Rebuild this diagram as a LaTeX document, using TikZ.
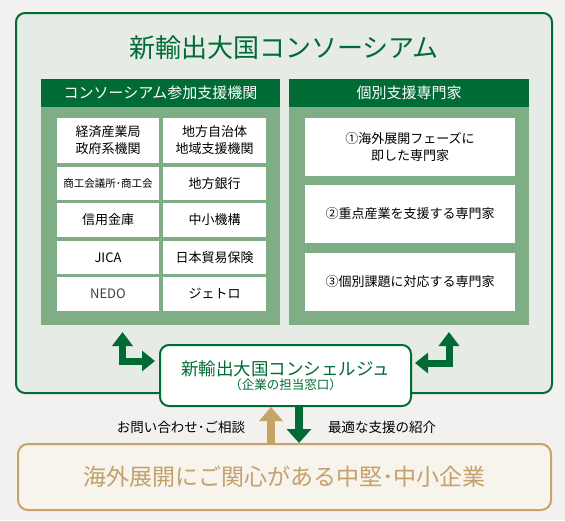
\documentclass[tikz,border=0pt]{standalone}
\usepackage{fontspec}
\setmainfont{Noto Sans CJK JP}
\usetikzlibrary{arrows.meta}
\definecolor{bgc}{HTML}{F2F1EF}
\definecolor{dg}{HTML}{006B35}
\definecolor{pg}{HTML}{7FAD86}
\definecolor{lg}{HTML}{E6ECE5}
\definecolor{tn}{HTML}{C9A265}
\definecolor{tntext}{HTML}{C4A06A}
\definecolor{bfill}{HTML}{F7F3ED}
\newcommand{\fs}[2]{\fontsize{#1}{#2}\selectfont}
\tikzset{
  wbox/.style={fill=white, draw=none, inner sep=0pt, align=center, text=black, font=\fs{13}{17}},
  panel/.style={fill=pg, draw=none, inner sep=0pt},
  header/.style={fill=dg, draw=none, inner sep=0pt, text=white, font=\fs{15}{17}},
  garrow/.style={draw=dg, line width=7pt, line join=miter},
  vtan/.style={draw=tn, line width=8pt, -{Triangle[width=23pt,length=14pt]}},
  vgreen/.style={draw=dg, line width=8pt, -{Triangle[width=24pt,length=14pt]}},
  elbowtips/.style={{Triangle[width=20pt,length=14pt]}-{Triangle[width=20pt,length=13pt]}},
  lbl/.style={inner sep=0pt, font=\fs{13.5}{16}, text=black}
}
\begin{document}
\begin{tikzpicture}[x=1pt,y=-1pt]
\useasboundingbox (0,0) rectangle (565,520);
\fill[bgc] (0,0) rectangle (565,520);

% outer consortium box
\node[draw=dg, fill=lg, line width=2pt, rounded corners=9pt, minimum width=536pt, minimum height=380pt, inner sep=0pt] (outer) at (284,203) {};
\node[text=dg, font=\fs{26}{28}, inner sep=0pt] (title) at (284,48) {新輸出大国コンソーシアム};

% left panel
\node[panel, minimum width=239pt, minimum height=246pt] (lp) at (160.5,202) {};
\node[header, minimum width=239pt, minimum height=28pt] (lh) at (160.5,93) {コンソーシアム参加支援機関};
\node[wbox, minimum width=102pt, minimum height=45pt] (b11) at (108,140.5) {経済産業局\\政府系機関};
\node[wbox, minimum width=103pt, minimum height=45pt] (b12) at (214.5,140.5) {地方自治体\\地域支援機関};
\node[wbox, minimum width=102pt, minimum height=33pt, font=\fs{10.5}{13}] (b21) at (108,183.5) {商工会議所･商工会};
\node[wbox, minimum width=103pt, minimum height=33pt] (b22) at (214.5,183.5) {地方銀行};
\node[wbox, minimum width=102pt, minimum height=34pt] (b31) at (108,220) {信用金庫};
\node[wbox, minimum width=103pt, minimum height=34pt] (b32) at (214.5,220) {中小機構};
\node[wbox, minimum width=102pt, minimum height=33pt] (b41) at (108,257.5) {JICA};
\node[wbox, minimum width=103pt, minimum height=33pt] (b42) at (214.5,257.5) {日本貿易保険};
\node[wbox, minimum width=102pt, minimum height=34pt, text=black!75] (b51) at (108,294) {NEDO};
\node[wbox, minimum width=103pt, minimum height=34pt] (b52) at (214.5,294) {ジェトロ};

% right panel
\node[panel, minimum width=240pt, minimum height=246pt] (rp) at (409,202) {};
\node[header, minimum width=240pt, minimum height=28pt] (rh) at (409,93) {個別支援専門家};
\node[wbox, minimum width=210pt, minimum height=58pt] (r1) at (410,147) {①海外展開フェーズに\\即した専門家};
\node[wbox, minimum width=210pt, minimum height=58pt] (r2) at (410,214) {②重点産業を支援する専門家};
\node[wbox, minimum width=210pt, minimum height=58pt] (r3) at (410,282) {③個別課題に対応する専門家};

% concierge
\node[draw=dg, fill=white, line width=2pt, rounded corners=9pt, minimum width=251pt, minimum height=61pt, inner sep=0pt, align=center, text=dg] (con) at (285.5,375.5)
  {{\fs{17.5}{17}新輸出大国コンシェルジュ}\\[1pt]{\fs{12.5}{14}（企業の担当窓口）}};

% bottom company box
\node[draw=tn, fill=bfill, line width=2pt, rounded corners=10pt, minimum width=533pt, minimum height=66pt, inner sep=0pt, text=tntext, font=\fs{23}{25}] (bot) at (284.5,477) {海外展開にご関心がある中堅･中小企業};

% elbow arrows
\coordinate (la) at (122.5,332);
\coordinate (lb) at (155,361);
\coordinate (ra) at (449,332);
\coordinate (rb) at (415,363);
\draw[garrow, elbowtips] (la) |- (lb);
\draw[garrow, elbowtips] (ra) |- (rb);

% vertical arrows
\coordinate (tx) at (271,0);
\coordinate (gx) at (299,0);
\draw[vtan] (tx |- bot.north) -- (tx |- con.south);
\draw[vgreen] (gx |- con.south) -- (gx |- bot.north);

% labels
\node[lbl] (l1) at (181,427) {お問い合わせ･ご相談};
\node[lbl] (l2) at (382,427) {最適な支援の紹介};
\end{tikzpicture}
\end{document}
